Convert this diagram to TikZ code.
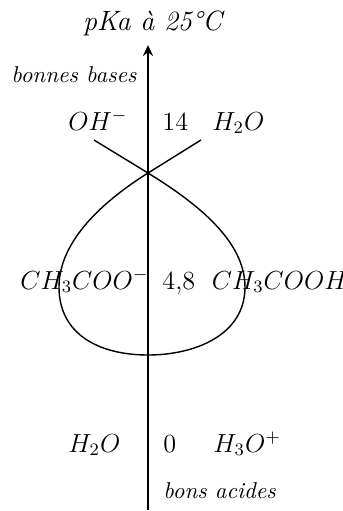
\documentclass[tikz,border=0pt]{standalone}
\usetikzlibrary{arrows.meta}
\begin{document}
\begin{tikzpicture}[x=0.4587pt,y=-0.4587pt,
  lbl/.style={inner sep=0pt,font=\fontsize{12}{14}\selectfont},
  ttl/.style={inner sep=0pt,font=\fontsize{12.8}{15}\selectfont\itshape},
  small/.style={inner sep=0pt,font=\fontsize{10.5}{12.5}\selectfont\itshape},
  axis/.style={line width=0.85pt,-{Stealth[length=5pt,width=4.6pt]}},
  loop/.style={line width=0.65pt}]
\useasboundingbox (0,0) rectangle (343,511);
% axis
\coordinate (bot) at (148,510);
\coordinate (top) at (148,45);
\draw[axis] (bot) -- (top);
\node[ttl,anchor=base] (title) at (152.5,30) {pKa à 25°C};
\node[small,anchor=base east] (bb) at (137,82) {bonnes bases};
\node[small,anchor=base west] (ba) at (163,498) {bons acides};
% rows
\node[lbl,anchor=base west] (oh) at (68,130) {$OH^-$};
\node[lbl,anchor=base west] (n14) at (162,130) {14};
\node[lbl,anchor=base west] (h2oa) at (212,130) {$H_2O$};
\node[lbl,anchor=base west] (ac) at (20,289) {$CH_3COO^-$};
\node[lbl,anchor=base west] (n48) at (162,289) {4,8};
\node[lbl,anchor=base west] (acH) at (211.5,289) {$CH_3COOH$};
\node[lbl,anchor=base west] (h2ob) at (68,452) {$H_2O$};
\node[lbl,anchor=base west] (n0) at (163,452) {0};
\node[lbl,anchor=base west] (h3o) at (213,452) {$H_3O^+$};
% loop
\coordinate (A) at (94,140);
\coordinate (C) at (201,140);
\coordinate (X) at (148,173);
\coordinate (R) at (245,287);
\coordinate (B) at (148,355);
\coordinate (L) at (59,287);
\draw[loop] (A) -- (X) .. controls (195,202) and (245,240) .. (R)
  .. controls (245,335) and (195,355) .. (B)
  .. controls (100,355) and (59,335) .. (L)
  .. controls (59,240) and (105,200) .. (X) -- (C);
\end{tikzpicture}
\end{document}
